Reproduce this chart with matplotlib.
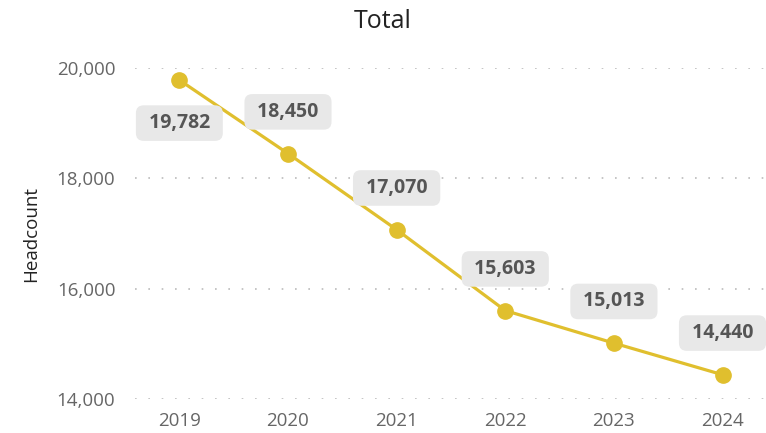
import numpy as np
import matplotlib.pyplot as plt

years = [2019, 2020, 2021, 2022, 2023, 2024]
headcount = [19782, 18450, 17070, 15603, 15013, 14440]
label_text = ['19,782', '18,450', '17,070', '15,603', '15,013', '14,440']
yticks = [14000, 16000, 18000, 20000]

plt.rcParams['font.family'] = ['Open Sans', 'DejaVu Sans']

fig = plt.figure(figsize=(7.66, 4.33), dpi=100)
ax = fig.add_axes([0.176, 0.0785, 0.824, 0.7644])

ax.plot(years, headcount, color='#E0BF2E', lw=2.3, marker='o', ms=11,
        clip_on=False, zorder=3)

# data labels in grey rounded boxes; first one sits below its point
for i, (x, y, t) in enumerate(zip(years, headcount, label_text)):
    dy = -31 if i == 0 else 30
    ax.annotate(' ' + t + ' ', (x, y), xytext=(0, dy), textcoords='offset points',
                ha='center', va='center', fontsize=14, fontweight='bold',
                color='#555555', zorder=4,
                bbox=dict(boxstyle='round,pad=0.4,rounding_size=0.4',
                          fc='#E8E8E8', ec='none'))

ax.set_xlim(2018.59, 2024.4)
ax.set_ylim(14000, 20000)
ax.set_xticks(years)
ax.set_yticks(yticks)
ax.set_yticklabels(['{:,}'.format(v) for v in yticks])
ax.tick_params(axis='both', length=0, labelsize=13.5, labelcolor='#666666')
ax.tick_params(axis='y', pad=14)
ax.tick_params(axis='x', pad=9)
ax.grid(axis='y', color='#BBBBBB', linestyle=(0, (1, 7)), lw=1.2)
for s in ax.spines.values():
    s.set_visible(False)

ax.set_ylabel('Headcount', fontsize=13.5, color='#222222', labelpad=12)
fig.text(0.5, 0.95, 'Total', ha='center', va='center', fontsize=18,
         color='#222222', fontweight='medium')

fig.savefig('out.png', dpi=100)
